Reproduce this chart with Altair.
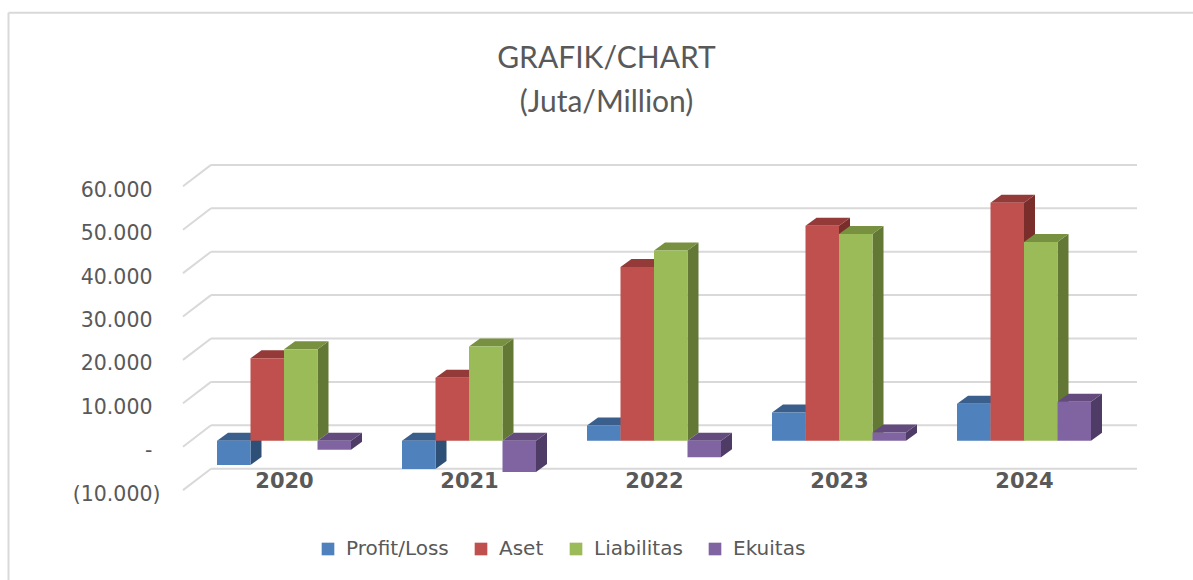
import altair as alt
import pandas as pd

# ---------------- data (in millions) ----------------
years = [2020, 2021, 2022, 2023, 2024]
series = ["Profit/Loss", "Aset", "Liabilitas", "Ekuitas"]
profit_loss = [-5600, -6500, 3500, 6500, 8500]
aset = [19000, 14500, 40000, 49500, 54800]
liabilitas = [21100, 21700, 43800, 47600, 45800]
ekuitas = [-2100, -7200, -3800, 1900, 9000]
grid_values = [-10000, 0, 10000, 20000, 30000, 40000, 50000, 60000]
title_lines = ["GRAFIK/CHART", "(Juta/Million)"]

# ---------------- styles ----------------
front_colors = ["#4F81BD", "#C0504D", "#9BBB59", "#8064A2"]
top_colors = ["#3A5F8C", "#943A38", "#789140", "#634B7E"]
side_colors = ["#2E5077", "#7A2E2B", "#627834", "#4F3C66"]
GRID = "#D9D9D9"
TEXT = "#595959"

# ---------------- layout (pixels) ----------------
W, H = 1193, 580
PAD_L, PAD_T = 183, 150
PLOT_W, PLOT_H = 954, 350
PX_PER_YEAR = 185.0
FIRST_CENTER_PX = 101.0
PX_PER_UNIT = 4.34 / 1000.0
ZERO_PX = 290.7
BAR_PX = 33.5
DEPTH_PX = (11.0, 8.0)      # bar depth (right, up)
WALL_PX = (28.0, 21.4)      # floor/wall depth (right, up)
BAR_PLANE_PX = 6.0          # bar plane sits this far behind the front plane (vertical)

def xu(px):
    return px / PX_PER_YEAR

def yu(px):
    return px / PX_PER_UNIT

x_min = years[0] - xu(FIRST_CENTER_PX)
x_max = years[0] + xu(PLOT_W - FIRST_CENTER_PX)
y_max = yu(ZERO_PX)
y_min = -yu(PLOT_H - ZERO_PX)
X_SCALE = alt.Scale(domain=[x_min, x_max], nice=False, zero=False)
Y_SCALE = alt.Scale(domain=[y_min, y_max], nice=False, zero=False)

values = dict(zip(series, [profit_loss, aset, liabilitas, ekuitas]))
BW = xu(BAR_PX)
DX, DY = xu(DEPTH_PX[0]), yu(DEPTH_PX[1])

front_rows, top_rows, side_rows = [], [], []
for year_i, year in enumerate(years):
    for s_i, s in enumerate(series):
        v = values[s][year_i]
        x0 = year + (s_i - 2) * BW
        x1 = x0 + BW
        lo, hi = min(v, 0), max(v, 0)
        bid = f"b{year_i}_{s_i}"
        front_rows.append(dict(series=s, year=year, x0=x0, x1=x1, lo=lo, hi=hi, value=v))
        for xx, a, b in [(x0, hi, hi), (x0 + DX, hi, hi + DY),
                         (x1, hi, hi + DY), (x1 + DX, hi + DY, hi + DY)]:
            top_rows.append(dict(bid=bid, series=s, px=xx, pa=a, pb=b))
        for xx, a, b in [(x1, lo, hi), (x1 + DX, lo + DY, hi + DY)]:
            side_rows.append(dict(bid=bid, series=s, px=xx, pa=a, pb=b))

front_df = pd.DataFrame(front_rows)
top_df = pd.DataFrame(top_rows)
side_df = pd.DataFrame(side_rows)

back_shift = yu(WALL_PX[1] - BAR_PLANE_PX)
front_shift = -yu(BAR_PLANE_PX)
grid_df = pd.DataFrame({
    "v": grid_values,
    "gx0": [x_min + xu(WALL_PX[0])] * len(grid_values),
    "gx1": [x_max] * len(grid_values),
    "fx": [x_min] * len(grid_values),
    "gy": [g + back_shift for g in grid_values],
    "fy": [g + front_shift for g in grid_values],
})

label_expr = (
    "datum.value == 0 ? '-' : (datum.value < 0 ? '(' + replace(format(-datum.value, ','), ',', '.') + ')'"
    " : replace(format(datum.value, ','), ',', '.'))"
)

X_AXIS = alt.Axis(
    values=years, format="d", title=None, grid=False, domain=False, ticks=False, tickSize=0,
    labelFont="DejaVu Sans", labelFontWeight="bold", labelFontSize=21, labelColor=TEXT,
    offset=-33, labelPadding=3)
Y_AXIS = alt.Axis(
    values=grid_values, labelExpr=label_expr, title=None, grid=False, domain=False,
    ticks=False, tickSize=0, labelFont="DejaVu Sans", labelFontSize=20.5, labelColor=TEXT,
    labelPadding={"condition": {"test": "datum.value < 0", "value": 23}, "value": 31},
    labelOffset=10)

back_grid = alt.Chart(grid_df).mark_rule(color=GRID, strokeWidth=2).encode(
    x=alt.X("gx0:Q", scale=X_SCALE, axis=X_AXIS),
    x2="gx1:Q",
    y=alt.Y("gy:Q", scale=Y_SCALE, axis=Y_AXIS),
)
wall_grid = alt.Chart(grid_df).mark_rule(color=GRID, strokeWidth=2).encode(
    x=alt.X("fx:Q", scale=X_SCALE, axis=X_AXIS),
    x2="gx0:Q",
    y=alt.Y("fy:Q", scale=Y_SCALE, axis=Y_AXIS),
    y2="gy:Q",
)

side = alt.Chart(side_df).mark_area().encode(
    x=alt.X("px:Q", scale=X_SCALE, axis=X_AXIS),
    y=alt.Y("pa:Q", scale=Y_SCALE, axis=Y_AXIS),
    y2="pb:Q",
    detail="bid:N",
    color=alt.Color("series:N", scale=alt.Scale(domain=series, range=side_colors), legend=None),
)
top = alt.Chart(top_df).mark_area().encode(
    x=alt.X("px:Q", scale=X_SCALE, axis=X_AXIS),
    y=alt.Y("pa:Q", scale=Y_SCALE, axis=Y_AXIS),
    y2="pb:Q",
    detail="bid:N",
    color=alt.Color("series:N", scale=alt.Scale(domain=series, range=top_colors), legend=None),
)
front = alt.Chart(front_df).mark_rect().encode(
    x=alt.X("x0:Q", scale=X_SCALE, axis=X_AXIS),
    x2="x1:Q",
    y=alt.Y("lo:Q", scale=Y_SCALE, axis=Y_AXIS),
    y2="hi:Q",
    color=alt.Color("series:N", scale=alt.Scale(domain=series, range=front_colors),
                    legend=alt.Legend(orient="none", legendX=135, legendY=389, direction="horizontal",
                                      title=None, symbolType="square", symbolSize=160,
                                      symbolStrokeWidth=0, labelFont="DejaVu Sans", labelFontSize=20,
                                      labelColor=TEXT, labelOffset=8, columnPadding=22)),
    tooltip=["year:O", "series:N", "value:Q"],
)

one = pd.DataFrame({"a": [0]})
border_left = alt.Chart(one).mark_rule(color=GRID, strokeWidth=2).encode(
    x=alt.value(8.5 - PAD_L), y=alt.value(12.7 - PAD_T), y2=alt.value(H - PAD_T + 5))
border_top = alt.Chart(one).mark_rule(color=GRID, strokeWidth=2).encode(
    x=alt.value(8.5 - PAD_L), x2=alt.value(W - PAD_L + 5), y=alt.value(12.7 - PAD_T))

chart = alt.layer(back_grid, wall_grid, side, top, front, border_left, border_top).resolve_scale(
    color="independent"
).properties(
    width=PLOT_W,
    height=PLOT_H,
    autosize=alt.AutoSizeParams(type="none"),
    padding={"left": PAD_L, "top": PAD_T, "right": W - PAD_L - PLOT_W, "bottom": H - PAD_T - PLOT_H},
    background="white",
    title=alt.TitleParams(text=title_lines, font="Lato", fontSize=30, fontWeight="normal", color=TEXT,
                          anchor="middle", frame="group", dx=-53.5, baseline="bottom",
                          lineHeight=44, offset=-136),
).configure_view(stroke=None)

chart.save("out.html", embed_options={"renderer": "svg", "actions": False})
